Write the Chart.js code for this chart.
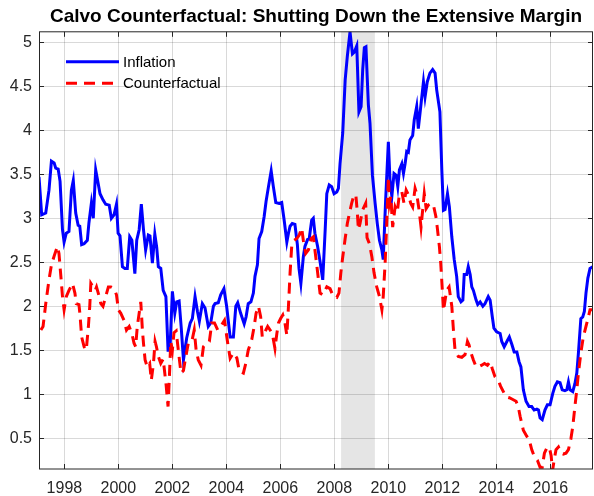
<!DOCTYPE html>
<html>
<head>
<meta charset="utf-8">
<title>Calvo Counterfactual</title>
<script src="https://cdn.jsdelivr.net/npm/chart.js@4.4.1/dist/chart.umd.min.js"></script>
<style>
  html, body { margin: 0; padding: 0; background: #fff; }
  #wrap { width: 594px; height: 496px; }
</style>
</head>
<body>
<div id="wrap"><canvas id="chart" width="594" height="496"></canvas></div>
<script>
// decimal years
let inflationDates = [
    1997.06,1997.16,1997.31,1997.43,1997.52,1997.62,1997.68,1997.77,1997.84,1997.93,
    1997.99,1998.07,1998.17,1998.26,1998.33,1998.42,1998.51,1998.57,1998.64,1998.73,
    1998.85,1998.91,1999.00,1999.07,1999.16,1999.22,1999.32,1999.43,1999.53,1999.66,
    1999.74,1999.84,1999.93,1999.99,2000.06,2000.15,2000.24,2000.33,2000.42,2000.50,
    2000.61,2000.68,2000.77,2000.85,2000.93,2001.01,2001.11,2001.17,2001.26,2001.35,
    2001.42,2001.48,2001.57,2001.66,2001.76,2001.84,2001.91,2002.00,2002.09,2002.16,
    2002.25,2002.33,2002.41,2002.53,2002.66,2002.74,2002.84,2002.93,2003.00,2003.11,
    2003.21,2003.33,2003.42,2003.52,2003.58,2003.70,2003.79,2003.91,2004.01,2004.14,
    2004.26,2004.35,2004.42,2004.53,2004.66,2004.73,2004.81,2004.91,2005.00,2005.06,
    2005.15,2005.21,2005.31,2005.40,2005.47,2005.56,2005.66,2005.74,2005.83,2005.95,
    2006.05,2006.14,2006.24,2006.30,2006.36,2006.44,2006.54,2006.63,2006.69,2006.76,
    2006.85,2006.91,2007.01,2007.07,2007.16,2007.22,2007.28,2007.38,2007.47,2007.57,
    2007.66,2007.72,2007.81,2007.90,2007.99,2008.09,2008.15,2008.21,2008.31,2008.40,
    2008.48,2008.58,2008.67,2008.74,2008.83,2008.91,2008.99,2009.05,2009.11,2009.17,
    2009.26,2009.32,2009.41,2009.51,2009.59,2009.67,2009.76,2009.81,2009.90,2010.00,
    2010.06,2010.13,2010.21,2010.29,2010.35,2010.41,2010.50,2010.56,2010.62,2010.68,
    2010.74,2010.80,2010.90,2010.96,2011.05,2011.11,2011.20,2011.30,2011.36,2011.44,
    2011.54,2011.64,2011.73,2011.79,2011.91,2011.98,2012.04,2012.10,2012.19,2012.26,
    2012.35,2012.44,2012.53,2012.59,2012.69,2012.76,2012.81,2012.90,2012.96,2013.03,
    2013.09,2013.15,2013.25,2013.31,2013.40,2013.50,2013.58,2013.70,2013.77,2013.85,
    2013.91,2014.01,2014.14,2014.20,2014.29,2014.39,2014.48,2014.57,2014.66,2014.76,
    2014.84,2014.91,2015.00,2015.10,2015.21,2015.31,2015.40,2015.50,2015.56,2015.62,
    2015.70,2015.80,2015.89,2015.99,2016.09,2016.17,2016.26,2016.36,2016.44,2016.54,
    2016.61,2016.67,2016.73,2016.83,2016.91,2016.98,2017.04,2017.13,2017.20,2017.26,
    2017.32,2017.39,2017.47,2017.57
];
let inflationValues = [
    3.47,3.04,3.06,3.32,3.65,3.63,3.57,3.56,3.42,2.87,
    2.73,2.83,2.85,3.32,3.43,3.06,2.92,2.91,2.70,2.71,
    2.75,2.95,3.17,3.00,3.55,3.45,3.28,3.21,3.16,3.15,
    3.00,3.04,3.16,2.83,2.80,2.45,2.43,2.43,2.79,2.75,
    2.37,2.75,2.87,3.16,2.87,2.64,2.81,2.80,2.49,2.82,
    2.67,2.45,2.43,2.18,2.11,1.50,1.50,2.17,1.92,2.05,
    2.06,1.75,1.39,1.64,1.81,1.86,2.11,1.94,1.83,2.03,
    1.98,1.77,1.81,2.00,2.03,2.04,2.13,2.20,2.00,1.65,
    1.65,2.00,2.04,1.92,1.80,1.88,2.03,2.05,2.15,2.34,
    2.47,2.77,2.85,3.02,3.19,3.36,3.54,3.36,3.18,3.17,
    3.18,2.98,2.73,2.83,2.91,2.94,2.93,2.70,2.43,2.26,
    2.56,2.68,2.76,2.77,2.98,3.00,2.83,2.68,2.51,2.30,
    2.87,3.28,3.38,3.36,3.28,3.30,3.34,3.62,3.97,4.57,
    4.84,5.12,4.87,4.89,4.96,4.21,4.27,4.69,4.94,4.95,
    4.29,4.08,3.49,3.17,2.94,2.75,2.64,2.53,3.21,3.87,
    3.44,3.25,3.51,3.49,3.36,3.55,3.62,3.51,3.62,3.76,
    3.75,3.89,3.94,4.12,4.27,4.02,4.27,4.55,4.38,4.55,
    4.65,4.69,4.65,4.46,4.21,3.55,3.09,3.10,3.28,3.13,
    2.79,2.53,2.34,2.11,2.05,2.07,2.36,2.36,2.45,2.36,
    2.22,2.18,2.07,2.02,2.05,2.00,2.03,2.11,2.07,1.88,
    1.75,1.71,1.69,1.60,1.54,1.60,1.65,1.57,1.48,1.48,
    1.37,1.31,1.05,0.92,0.86,0.86,0.82,0.83,0.82,0.73,
    0.71,0.82,0.88,0.88,1.01,1.09,1.14,1.13,1.05,1.04,
    1.05,1.14,1.05,1.03,1.12,1.24,1.47,1.86,1.88,1.94,
    2.15,2.32,2.43,2.45
];
let counterfactualDates = [
    1997.13,1997.21,1997.31,1997.43,1997.52,1997.62,1997.74,1997.80,1997.87,1997.93,
    1997.99,1998.07,1998.17,1998.30,1998.39,1998.44,1998.54,1998.58,1998.64,1998.73,
    1998.81,1998.89,1998.94,1998.98,1999.06,1999.14,1999.19,1999.29,1999.35,1999.43,
    1999.53,1999.63,1999.72,1999.84,1999.93,2000.00,2000.09,2000.21,2000.30,2000.40,
    2000.50,2000.58,2000.64,2000.70,2000.77,2000.83,2000.89,2000.93,2000.99,2001.07,
    2001.16,2001.22,2001.30,2001.36,2001.41,2001.48,2001.57,2001.66,2001.77,2001.84,
    2001.89,2001.94,2002.00,2002.06,2002.14,2002.22,2002.32,2002.41,2002.50,2002.59,
    2002.72,2002.81,2002.88,2002.96,2003.06,2003.15,2003.27,2003.37,2003.46,2003.56,
    2003.68,2003.79,2003.93,2004.05,2004.14,2004.26,2004.39,2004.48,2004.63,2004.72,
    2004.81,2004.94,2005.03,2005.10,2005.19,2005.27,2005.33,2005.43,2005.53,2005.62,
    2005.70,2005.80,2005.87,2005.93,2006.01,2006.09,2006.17,2006.24,2006.30,2006.36,
    2006.42,2006.51,2006.61,2006.70,2006.79,2006.85,2006.94,2007.04,2007.14,2007.22,
    2007.28,2007.37,2007.47,2007.57,2007.72,2007.84,2007.96,2008.09,2008.17,2008.24,
    2008.31,2008.40,2008.48,2008.56,2008.64,2008.73,2008.80,2008.85,2008.89,2008.95,
    2009.04,2009.10,2009.16,2009.21,2009.30,2009.39,2009.47,2009.57,2009.67,2009.76,
    2009.81,2009.88,2009.94,2010.00,2010.04,2010.09,2010.16,2010.25,2010.33,2010.41,
    2010.50,2010.58,2010.66,2010.74,2010.83,2010.90,2010.99,2011.05,2011.14,2011.21,
    2011.27,2011.33,2011.40,2011.48,2011.58,2011.67,2011.76,2011.81,2011.89,2011.94,
    2012.00,2012.04,2012.16,2012.25,2012.35,2012.41,2012.47,2012.59,2012.72,2012.84,
    2012.93,2012.99,2013.05,2013.15,2013.25,2013.33,2013.46,2013.56,2013.67,2013.77,
    2013.85,2013.95,2014.07,2014.16,2014.26,2014.36,2014.48,2014.61,2014.73,2014.81,
    2014.88,2014.94,2015.00,2015.13,2015.21,2015.31,2015.41,2015.52,2015.62,2015.70,
    2015.78,2015.87,2015.96,2016.03,2016.08,2016.14,2016.21,2016.30,2016.40,2016.48,
    2016.58,2016.67,2016.76,2016.83,2016.91,2016.98,2017.04,2017.13,2017.22,2017.32,
    2017.41,2017.47,2017.57
];
let counterfactualValues = [
    1.73,1.77,2.03,2.30,2.47,2.57,2.68,2.60,2.34,2.11,
    1.96,2.11,2.18,2.26,2.15,2.03,2.02,1.90,1.65,1.54,
    1.50,1.77,2.00,2.26,2.22,2.18,2.22,2.11,2.03,2.00,
    2.11,2.22,2.22,2.20,2.13,1.96,1.92,1.84,1.73,1.77,
    1.69,1.58,1.54,1.77,1.92,2.05,1.73,1.58,1.39,1.31,
    1.35,1.16,1.35,1.60,1.54,1.43,1.35,1.40,1.10,0.86,
    1.20,1.60,1.50,1.70,1.72,1.50,1.24,1.27,1.43,1.58,
    1.60,1.73,1.50,1.39,1.33,1.54,1.58,1.60,1.81,1.81,
    1.73,1.77,1.84,1.58,1.41,1.47,1.41,1.26,1.24,1.35,
    1.50,1.62,1.77,1.92,2.00,1.88,1.65,1.71,1.77,1.73,
    1.69,1.52,1.69,1.81,1.86,1.90,1.81,1.67,2.00,2.38,
    2.68,2.75,2.77,2.81,2.89,2.75,2.60,2.64,2.77,2.79,
    2.64,2.41,2.15,2.13,2.22,2.20,2.11,2.10,2.15,2.38,
    2.56,2.77,2.94,3.06,3.17,3.27,3.25,3.07,2.87,2.94,
    3.09,3.13,3.17,2.78,2.71,2.56,2.38,2.22,2.11,1.96,
    2.11,2.49,2.94,3.47,3.17,3.25,2.90,3.13,3.07,3.28,
    3.30,3.17,3.32,3.27,3.17,3.13,3.34,3.28,3.09,2.90,
    3.09,3.28,3.11,3.15,3.17,3.15,3.02,2.90,2.68,2.49,
    2.18,1.95,2.18,2.22,2.00,1.73,1.50,1.43,1.42,1.45,
    1.60,1.56,1.48,1.39,1.31,1.31,1.33,1.35,1.33,1.37,
    1.29,1.20,1.16,1.09,1.03,0.97,0.96,0.94,0.92,0.86,
    0.75,0.67,0.59,0.52,0.49,0.37,0.29,0.25,0.17,0.17,
    0.33,0.39,0.40,0.30,0.13,0.25,0.37,0.40,0.33,0.32,
    0.33,0.37,0.49,0.63,0.86,1.05,1.24,1.47,1.65,1.77,
    1.88,1.96,1.96
];
let xTickValues = [1998, 2000, 2002, 2004, 2006, 2008, 2010, 2012, 2014, 2016];
let yTickValues = [0.5, 1, 1.5, 2, 2.5, 3, 3.5, 4, 4.5, 5];
let recessionStart = 2008.25;
let recessionEnd = 2009.5;

const FONT = '"Liberation Sans", Arial, Helvetica, sans-serif';
const AXIS_COLOR = '#262626';

function points(xs, ys) {
    return xs.map((x, i) => ({x: x, y: ys[i]}));
}

// shaded band, axes box with inward ticks, legend in the corner
const matlabLook = {
    id: 'matlabLook',
    beforeDraw(chart) {
        let ctx = chart.ctx, a = chart.chartArea, x = chart.scales.x;
        ctx.save();
        ctx.fillStyle = '#ffffff';
        ctx.fillRect(0, 0, chart.width, chart.height);
        let x0 = x.getPixelForValue(recessionStart);
        let x1 = x.getPixelForValue(recessionEnd);
        ctx.fillStyle = '#e5e5e5';
        ctx.fillRect(x0, a.top, x1 - x0, a.bottom - a.top);
        ctx.restore();
    },
    afterDraw(chart) {
        let ctx = chart.ctx, a = chart.chartArea;
        let xs = chart.scales.x, ys = chart.scales.y;
        ctx.save();
        ctx.strokeStyle = AXIS_COLOR;
        ctx.lineWidth = 1;
        ctx.strokeRect(a.left + 0.5, a.top, a.right - a.left - 1, a.bottom - a.top);
        let len = 5;
        ctx.beginPath();
        xTickValues.forEach(v => {
            let px = Math.round(xs.getPixelForValue(v)) + 0.5;
            ctx.moveTo(px, a.bottom); ctx.lineTo(px, a.bottom - len);
            ctx.moveTo(px, a.top); ctx.lineTo(px, a.top + len);
        });
        yTickValues.forEach(v => {
            let py = Math.round(ys.getPixelForValue(v)) + 0.5;
            ctx.moveTo(a.left, py); ctx.lineTo(a.left + len, py);
            ctx.moveTo(a.right, py); ctx.lineTo(a.right - len, py);
        });
        ctx.stroke();

        // legend
        let lx0 = a.left + 27, lx1 = a.left + 80, ty = a.top + 30;
        chart.data.datasets.forEach((ds, i) => {
            let y = ty + i * 21.5;
            ctx.beginPath();
            ctx.setLineDash(ds.borderDash || []);
            ctx.strokeStyle = ds.borderColor;
            ctx.lineWidth = ds.borderWidth;
            ctx.moveTo(lx0, y); ctx.lineTo(lx1, y);
            ctx.stroke();
            ctx.setLineDash([]);
            ctx.fillStyle = '#000';
            ctx.font = '15px ' + FONT;
            ctx.textBaseline = 'middle';
            ctx.fillText(ds.label, lx1 + 4, y + 1);
        });
        ctx.restore();
    }
};

new Chart(document.getElementById('chart'), {
    type: 'line',
    data: {
        datasets: [
            { label: 'Inflation', data: points(inflationDates, inflationValues),
              borderColor: '#0000ff', borderWidth: 3, pointRadius: 0, tension: 0, order: 2 },
            { label: 'Counterfactual', data: points(counterfactualDates, counterfactualValues),
              borderColor: '#ff0000', borderWidth: 3, borderDash: [11, 7], pointRadius: 0, tension: 0, order: 1 }
        ]
    },
    options: {
        responsive: false,
        animation: false,
        devicePixelRatio: 1,
        layout: { padding: { left: 0, right: 1, top: 0, bottom: 0 } },
        plugins: {
            legend: { display: false },
            tooltip: { enabled: false },
            title: {
                display: true,
                fullSize: false,
                text: 'Calvo Counterfactual: Shutting Down the Extensive Margin',
                color: '#000',
                font: { family: FONT, size: 19, weight: 'bold' },
                padding: { top: 5, bottom: 4 }
            }
        },
        scales: {
            x: {
                type: 'linear',
                min: 1997.06,
                max: 2017.58,
                afterBuildTicks: s => { s.ticks = xTickValues.map(v => ({value: v})); },
                afterFit: s => { s.height = 27; },
                ticks: { callback: v => String(v), color: AXIS_COLOR, font: { family: FONT, size: 16 },
                         padding: 10, maxRotation: 0, autoSkip: false },
                grid: { color: 'rgba(0,0,0,0.15)', drawTicks: false },
                border: { display: false }
            },
            y: {
                type: 'linear',
                min: 0.15,
                max: 5.12,
                afterBuildTicks: s => { s.ticks = yTickValues.map(v => ({value: v})); },
                afterFit: s => { s.width = 39; },
                ticks: { callback: v => String(v), color: AXIS_COLOR, font: { family: FONT, size: 16 },
                         padding: 7, autoSkip: false },
                grid: { color: 'rgba(0,0,0,0.15)', drawTicks: false },
                border: { display: false }
            }
        }
    },
    plugins: [matlabLook]
});
</script>
</body>
</html>
